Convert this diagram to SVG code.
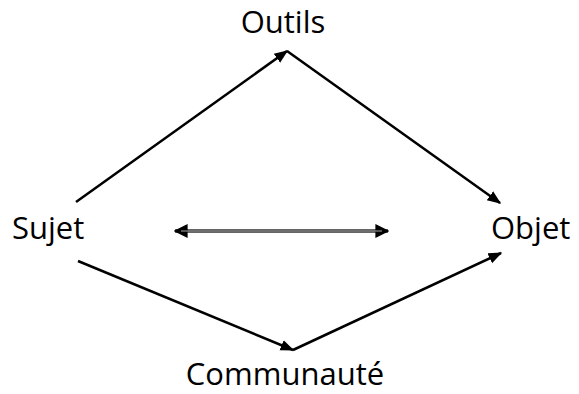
<svg xmlns="http://www.w3.org/2000/svg" width="579" height="394" viewBox="0 0 579 394">
<style>
.lbl{font-family:"Open Sans","Liberation Sans",sans-serif;font-size:31px;fill:#000;}
.ln{stroke:#000;stroke-width:2.5;fill:none;}
</style>
<defs>
<marker id="ah" viewBox="0 0 10 10" refX="9" refY="5" markerWidth="5.5" markerHeight="5.5" orient="auto" markerUnits="strokeWidth">
<path d="M0,1 L10,5 L0,9 Z" fill="#000"/>
</marker>
<marker id="ah2" viewBox="0 0 10 10" refX="9" refY="5" markerWidth="4" markerHeight="4" orient="auto-start-reverse" markerUnits="strokeWidth">
<path d="M0,0 L10,5 L0,10 Z" fill="#000"/>
</marker>
</defs>
<rect width="579" height="394" fill="#fff"/>
<g id="outils"><text class="lbl" x="283" y="33" text-anchor="middle">Outils</text></g>
<g id="sujet"><text class="lbl" x="12" y="239">Sujet</text></g>
<g id="objet"><text class="lbl" x="491" y="239">Objet</text></g>
<g id="communaute"><text class="lbl" x="285" y="385" text-anchor="middle">Communauté</text></g>
<g id="connectors">
<line class="ln" x1="76" y1="202" x2="287" y2="51" marker-end="url(#ah)"/>
<line class="ln" x1="287" y1="51" x2="500" y2="203" marker-end="url(#ah)"/>
<line class="ln" x1="78" y1="261" x2="293" y2="350" marker-end="url(#ah)"/>
<line class="ln" x1="293" y1="350" x2="501" y2="253" marker-end="url(#ah)"/>
<line x1="175" y1="231" x2="388" y2="231" stroke="#333" stroke-width="3.5" marker-start="url(#ah2)" marker-end="url(#ah2)"/>
<line x1="181" y1="231" x2="382" y2="231" stroke="#aaa" stroke-width="1"/>
</g>
</svg>
